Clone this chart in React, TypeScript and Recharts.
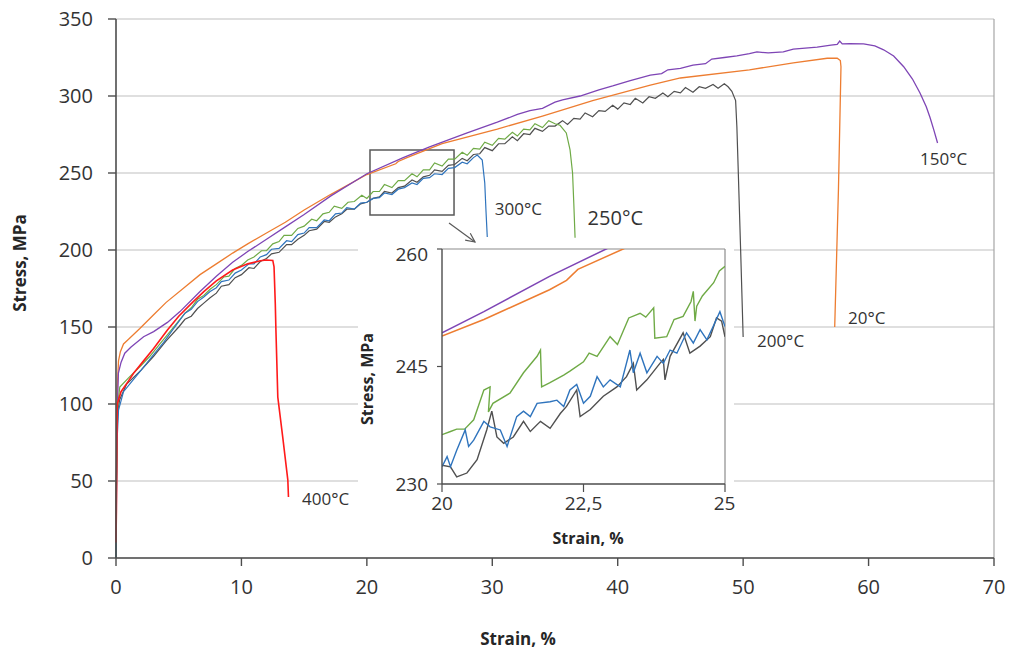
import React from 'react'
import { CartesianGrid, Line, LineChart, ReferenceArea, ReferenceDot, ReferenceLine, XAxis, YAxis } from 'recharts'

// [strain %, stress MPa]
const curve20: [number, number][] = [
  [0, 0], [0.05, 60], [0.1, 110], [0.2, 128], [0.35, 134], [0.6, 139], [1, 142], [1.9, 149], [3, 158], [4, 166],
  [5.5, 176], [6.7, 184], [8, 191], [9.3, 198], [10.5, 204], [12, 211], [13.5, 218], [15, 226], [17.1, 236],
  [20, 249], [22.3, 256], [22.5, 257.5], [23.2, 260], [26, 269], [30.4, 278.5], [34, 287], [38, 297], [42.6, 307],
  [45, 311.7], [50.5, 317], [54, 321.5], [56.7, 324.5], [57.5, 324.6], [57.75, 323], [57.8, 319], [57.6, 240], [57.3, 150],
]

const curve150: [number, number][] = [
  [0, 0], [0.05, 50], [0.12, 100], [0.19, 120], [0.4, 127], [0.7, 133], [1.2, 137], [2.2, 143.7], [3, 147], [4.1, 153],
  [5.1, 160], [6.7, 173], [8, 183], [9.3, 192], [10.5, 199], [12, 207], [13.5, 215], [15, 223], [17.1, 235],
  [20, 249.5], [22.9, 260], [25, 267], [28, 276], [30.4, 283], [32, 288], [33, 290.5], [34, 292], [35, 296],
  [35.6, 297.5], [37, 300], [38.5, 304], [39.6, 306.5], [41, 310], [42.6, 313.5], [43.5, 314.5], [44, 317], [45, 318],
  [46, 320], [47, 321], [47.5, 324], [48.5, 325], [49.5, 326], [50.5, 327.5], [51.1, 328.6], [52, 328], [53.2, 328.6],
  [54, 330.5], [55.9, 331.8], [57, 333], [57.5, 333.5], [57.7, 335.7], [57.9, 333.8], [58.5, 334], [59.6, 333.8],
  [60.5, 332.5], [61.2, 330], [62, 326], [62.8, 319], [63.5, 311], [64.1, 302], [64.6, 293], [64.9, 286], [65.2, 278], [65.5, 269.5],
]

const curve200: [number, number][] = [
  [0, 0], [0.03, 40], [0.08, 80], [0.15, 96], [0.3, 103], [0.85, 113], [2, 122], [3, 131], [4, 141], [5, 150],
  [5.5, 155], [6, 157], [6.5, 162], [7, 165.5], [7.5, 169], [8, 172], [8.4, 176.5], [9, 177.5], [9.5, 182], [10, 184],
  [10.6, 188.5], [11, 188], [11.5, 192.5], [12, 194.5], [12.4, 197.5], [13, 198.5], [13.6, 203.5], [14, 203.5], [14.5, 207],
  [15, 209.5], [15.4, 212.5], [16, 213.5], [16.6, 218.5], [17, 218], [17.5, 221.5], [18, 223.5], [18.4, 226.5], [19, 226.5],
  [19.5, 230], [20, 231], [20.5, 233.5], [21, 234.5], [21.4, 238], [22, 237], [22.5, 240.5], [23, 241.5], [23.6, 245.5],
  [24, 244], [24.5, 247.5], [25, 248.5], [25.4, 252], [26, 251], [26.5, 255], [27, 255.5], [27.6, 259.5], [28, 258],
  [28.5, 262], [29, 262.5], [29.4, 266.5], [30, 264.5], [30.5, 269], [31, 269], [31.6, 273.5], [32, 271], [32.5, 275.5],
  [33, 275], [33.4, 279], [34, 277], [34.5, 280.5], [35, 280.5], [35.6, 284], [36, 281.5], [36.5, 285.5], [37, 285],
  [37.4, 289], [38, 286.5], [38.5, 290.5], [39, 290], [39.6, 294], [40, 291.5], [40.5, 295.5], [41, 294.5], [41.4, 298.5],
  [42, 295.5], [42.5, 299.5], [43, 298.5], [43.6, 302], [44, 299.5], [44.5, 303], [45, 302], [45.4, 305.5], [46, 302.5],
  [46.5, 306], [47, 305], [47.6, 307.5], [48, 305], [48.5, 308], [48.8, 306], [49.1, 303], [49.4, 297],
  [49.5, 280], [49.6, 254], [49.8, 200], [50, 143.5],
]

const curve250: [number, number][] = [
  [0, 0], [0.03, 45], [0.08, 85], [0.15, 100], [0.3, 111], [1, 117], [2, 125], [2.7, 131], [3.5, 139], [4.5, 149],
  [5.5, 159], [6, 162.5], [6.5, 168], [7, 170.5], [7.5, 174.5], [8, 177.5], [8.6, 182.5], [9, 183], [9.5, 188], [10, 190],
  [10.5, 193.5], [11, 195.5], [11.6, 199.5], [12, 199.5], [12.5, 204], [13, 205.5], [13.4, 209.5], [14, 209.5], [14.5, 214],
  [15, 215.5], [15.6, 220], [16, 219], [16.5, 223.5], [17, 224.5], [17.4, 228.5], [18, 227], [18.5, 231], [19, 231.5],
  [19.6, 235.5], [20, 233.5], [20.5, 238], [21, 238], [21.4, 242.5], [22, 240.5], [22.5, 245], [23, 245], [23.6, 249.5],
  [24, 247.5], [24.5, 252], [25, 252], [25.4, 256.5], [26, 254.5], [26.5, 259], [27, 259], [27.6, 263.5], [28, 261.5],
  [28.5, 266], [29, 265.5], [29.4, 270], [30, 268], [30.5, 272.5], [31, 272], [31.6, 276.5], [32, 274], [32.5, 278.5],
  [33, 278], [33.4, 282], [34, 279.5], [34.5, 284], [35, 282], [35.4, 281], [35.9, 276], [36.2, 265], [36.4, 250],
  [36.5, 230], [36.6, 208],
]

const curve300: [number, number][] = [
  [0, 0], [0.02, 30], [0.05, 70], [0.2, 96], [0.6, 108], [1.4, 116], [2.2, 124], [3, 132], [3.8, 140], [4.5, 148],
  [5.5, 159], [6, 161.5], [6.5, 166.5], [7, 169.5], [7.5, 173], [8, 175.5], [8.4, 179.5], [9, 180.5], [9.5, 185], [10, 187],
  [10.6, 191], [11, 191], [11.5, 195.5], [12, 197], [12.4, 200.5], [13, 201], [13.6, 206], [14, 205.5], [14.5, 210],
  [15, 211], [15.4, 214.5], [16, 214.5], [16.6, 219.5], [17, 219], [17.5, 223.5], [18, 224], [18.4, 227.5], [19, 226.5],
  [19.5, 230.5], [20, 231], [20.5, 233.5], [21, 234], [21.4, 237], [22, 236], [22.5, 239.5], [23, 240.5], [23.6, 243.5],
  [24, 242.5], [24.5, 246.5], [25, 247], [25.4, 249.5], [26, 249], [26.5, 253], [27, 253.5], [27.6, 257], [28, 256],
  [28.5, 260], [28.8, 261.7], [29.2, 258.4], [29.4, 243.5], [29.5, 225], [29.6, 208.4],
]

const curve400: [number, number][] = [
  [0, 10], [0.03, 30], [0.06, 70], [0.1, 100], [0.4, 108], [1, 115], [1.4, 120], [2.2, 128], [3, 136], [4.1, 148],
  [5, 157], [6.1, 166], [7, 173], [8, 180], [9.3, 187], [10.5, 191], [11.5, 193], [12, 193.5], [12.5, 193.2],
  [12.6, 189], [12.7, 165], [12.75, 148], [12.9, 104.5], [13.3, 78], [13.7, 50.6], [13.75, 39.6],
]

// inset, strain 20–25 %
const inset20: [number, number][] = [[20, 248.9], [20.74, 251], [21.9, 254.8], [22.2, 256], [22.4, 257.4], [23.2, 260], [23.8, 262]]
const inset150: [number, number][] = [[20, 249.3], [20.74, 252], [21.9, 256.5], [22.9, 260], [23.5, 262]]
const inset250: [number, number][] = [
  [20, 236.3], [20.15, 236.7], [20.26, 237], [20.4, 237], [20.56, 238.2], [20.74, 242], [20.85, 242.4], [20.82, 239.2],
  [20.9, 240.3], [21.2, 241.6], [21.44, 244.2], [21.68, 246.3], [21.74, 247.1], [21.76, 242.4], [21.9, 242.9],
  [22.15, 243.9], [22.26, 244.4], [22.5, 245.6], [22.6, 246.7], [22.74, 246.3], [22.97, 248.8], [23.1, 247.8],
  [23.3, 251.2], [23.5, 251.8], [23.6, 251.3], [23.74, 252.5], [23.76, 248.6], [23.97, 248.8], [24.1, 251],
  [24.26, 251.4], [24.4, 253.3], [24.44, 254.6], [24.47, 250.8], [24.5, 252.7], [24.6, 254], [24.8, 255.7],
  [24.9, 257.2], [25, 257.8],
]
const inset300: [number, number][] = [
  [20, 232.2], [20.09, 233.5], [20.15, 232.2], [20.26, 234.3], [20.41, 236.9], [20.47, 234.8], [20.56, 235.6],
  [20.74, 238], [20.85, 237.3], [21.03, 236.9], [21.15, 234.8], [21.32, 238.6], [21.44, 239.3], [21.56, 238.6],
  [21.68, 240.3], [21.91, 240.5], [22.03, 240.7], [22.15, 239.9], [22.26, 242], [22.38, 242.7], [22.5, 240.3],
  [22.62, 241.2], [22.74, 243.7], [22.85, 242.4], [22.97, 243.3], [23.15, 242.4], [23.32, 247.1], [23.38, 244.2],
  [23.5, 246.7], [23.62, 244.2], [23.8, 246.3], [23.91, 245.4], [24.03, 247.1], [24.15, 246.7], [24.32, 249.3],
  [24.44, 248], [24.56, 249.7], [24.68, 248.4], [24.79, 250.1], [24.91, 252], [25, 250.1],
]
const inset200: [number, number][] = [
  [20, 232.4], [20.15, 232.2], [20.26, 230.9], [20.44, 231.4], [20.62, 233.1], [20.79, 236.9], [20.88, 239.3],
  [20.97, 236], [21.09, 235.2], [21.26, 236], [21.44, 238], [21.56, 236.7], [21.74, 238], [21.91, 237.1], [22.09, 239],
  [22.2, 239.9], [22.38, 242], [22.44, 238.6], [22.62, 239.5], [22.85, 241.2], [23.09, 242.4], [23.26, 243.7],
  [23.38, 245.4], [23.44, 242], [23.62, 243.3], [23.85, 245.4], [23.91, 245.9], [23.94, 243.3], [24.03, 246.3],
  [24.26, 249.3], [24.38, 246.7], [24.56, 247.6], [24.74, 248.8], [24.85, 251.2], [24.94, 250.8], [25, 248.8],
]

const xTicks = [0, 10, 20, 30, 40, 50, 60, 70]
const yTicks = [0, 50, 100, 150, 200, 250, 300, 350]
const insetXTicks = [20, 22.5, 25]
const insetYTicks = [230, 245, 260]

// temperature tags: [text, strain, stress]
const tags: [string, number, number][] = [
  ['150°C', 64.1, 255.2],
  ['20°C', 58.36, 151.9],
  ['200°C', 51.1, 137],
  ['300°C', 30.2, 222.7],
  ['250°C', 37.6, 216.2],
  ['400°C', 14.83, 34.4],
]

const FONT = '"Open Sans", sans-serif'
const COLORS = { c20: '#ED7D31', c150: '#7E45B5', c200: '#505050', c250: '#6FAA46', c300: '#2F74BD', c400: '#FF1A1A' }

const pts = (arr: [number, number][]) => arr.map(([strain, stress]) => ({ strain, stress }))

const Title = ({ tx, ty, rot = 0, text, size }: any) => (
  <text
    x={tx}
    y={ty}
    transform={rot ? `rotate(${rot} ${tx} ${ty})` : undefined}
    textAnchor="middle"
    dominantBaseline="central"
    fontFamily={FONT}
    fontSize={size}
    fontWeight={700}
    fill="#262626"
  >
    {text}
  </text>
)

const TagLabel = ({ viewBox, text, size }: any) => (
  <text x={viewBox.x + 1} y={viewBox.y + 1} fontFamily={FONT} fontSize={size} fill="#333333">
    {text}
  </text>
)

const Arrow = (p: any) => {
  const { x1, y1, x2, y2 } = p
  const a = Math.atan2(y2 - y1, x2 - x1)
  const L = 10
  const w = 0.45
  const ax = x2 - L * Math.cos(a - w)
  const ay = y2 - L * Math.sin(a - w)
  const bx = x2 - L * Math.cos(a + w)
  const by = y2 - L * Math.sin(a + w)
  return (
    <g>
      <line x1={x1} y1={y1} x2={x2} y2={y2} stroke="#595959" strokeWidth={1.2} />
      <polyline points={`${ax},${ay} ${x2},${y2} ${bx},${by}`} fill="none" stroke="#595959" strokeWidth={1.2} />
    </g>
  )
}

const tickStyle = { fontFamily: FONT, fontSize: 20, fill: '#333333' }
const insetTickStyle = { fontFamily: FONT, fontSize: 19, fill: '#333333' }

export default function App() {
  return (
    <div style={{ position: 'absolute', left: 0, top: 0, width: 1009, height: 649, background: '#fff' }}>
      <style>{'.inset svg { overflow: visible; }'}</style>
      <LineChart width={1009} height={649} margin={{ top: 19, right: 15, bottom: 0, left: 0 }}>
        <CartesianGrid vertical={false} stroke="#c0c0c0" strokeWidth={1.2} />
        <XAxis
          type="number"
          dataKey="strain"
          domain={[0, 70]}
          ticks={xTicks}
          height={91}
          tickSize={8}
          tickMargin={14}
          tick={tickStyle}
          axisLine={{ stroke: '#4d4d4d', strokeWidth: 1.6 }}
          tickLine={{ stroke: '#4d4d4d', strokeWidth: 1.4 }}
          label={<Title tx={518} ty={638} text="Strain, %" size={17} />}
        />
        <YAxis
          type="number"
          dataKey="stress"
          domain={[0, 350]}
          ticks={yTicks}
          width={116}
          tickSize={8}
          tickMargin={15}
          tick={tickStyle}
          axisLine={{ stroke: '#4d4d4d', strokeWidth: 1.6 }}
          tickLine={{ stroke: '#4d4d4d', strokeWidth: 1.4 }}
          label={<Title tx={19} ty={263} rot={-90} text="Stress, MPa" size={17} />}
        />
        <ReferenceLine x={70} stroke="#a6a6a6" strokeWidth={1.2} />
        <Line data={pts(curve20)} dataKey="stress" stroke={COLORS.c20} strokeWidth={1.3} dot={false} activeDot={false} isAnimationActive={false} />
        <Line data={pts(curve150)} dataKey="stress" stroke={COLORS.c150} strokeWidth={1.3} dot={false} activeDot={false} isAnimationActive={false} />
        <Line data={pts(curve200)} dataKey="stress" stroke={COLORS.c200} strokeWidth={1.2} dot={false} activeDot={false} isAnimationActive={false} />
        <Line data={pts(curve250)} dataKey="stress" stroke={COLORS.c250} strokeWidth={1.2} dot={false} activeDot={false} isAnimationActive={false} />
        <Line data={pts(curve300)} dataKey="stress" stroke={COLORS.c300} strokeWidth={1.2} dot={false} activeDot={false} isAnimationActive={false} />
        <Line data={pts(curve400)} dataKey="stress" stroke={COLORS.c400} strokeWidth={1.6} dot={false} activeDot={false} isAnimationActive={false} />
        <ReferenceArea x1={20.25} x2={26.95} y1={222.7} y2={265} fill="none" stroke="#595959" strokeWidth={1.5} />
        <ReferenceLine segment={[{ x: 26.55, y: 217.5 }, { x: 28.62, y: 205.2 }]} shape={Arrow} />
        {tags.map(([text, x, y]) => (
          <ReferenceDot
            key={text}
            x={x}
            y={y}
            r={1}
            fill="none"
            stroke="none"
            label={<TagLabel text={text} size={text === '250°C' ? 20 : 17} />}
          />
        ))}
      </LineChart>

      <div className="inset" style={{ position: 'absolute', left: 358, top: 243, width: 376, height: 312, background: '#fff' }}>
        <LineChart width={376} height={312} margin={{ top: 6, right: 9, bottom: 0, left: 0 }}>
          <XAxis
            type="number"
            dataKey="strain"
            domain={[20, 25]}
            ticks={insetXTicks}
            allowDataOverflow
            height={71}
            tickSize={8}
            tickMargin={5}
            tick={insetTickStyle}
            tickFormatter={(v: number) => String(v).replace('.', ',')}
            axisLine={{ stroke: '#4d4d4d', strokeWidth: 1.4 }}
            tickLine={{ stroke: '#4d4d4d', strokeWidth: 1.2 }}
            label={<Title tx={230} ty={295} text="Strain, %" size={16} />}
          />
          <YAxis
            type="number"
            dataKey="stress"
            domain={[230, 260]}
            ticks={insetYTicks}
            allowDataOverflow
            width={84}
            tickSize={5}
            tickMargin={9}
            tick={insetTickStyle}
            axisLine={{ stroke: '#4d4d4d', strokeWidth: 1.4 }}
            tickLine={{ stroke: '#4d4d4d', strokeWidth: 1.2 }}
            label={<Title tx={9} ty={136} rot={-90} text="Stress, MPa" size={16} />}
          />
          <ReferenceLine y={260} stroke="#8c8c8c" strokeWidth={1.2} />
          <ReferenceLine x={25} stroke="#8c8c8c" strokeWidth={1.2} />
          <Line data={pts(inset20)} dataKey="stress" stroke={COLORS.c20} strokeWidth={1.5} dot={false} activeDot={false} isAnimationActive={false} />
          <Line data={pts(inset150)} dataKey="stress" stroke={COLORS.c150} strokeWidth={1.5} dot={false} activeDot={false} isAnimationActive={false} />
          <Line data={pts(inset250)} dataKey="stress" stroke={COLORS.c250} strokeWidth={1.4} dot={false} activeDot={false} isAnimationActive={false} />
          <Line data={pts(inset200)} dataKey="stress" stroke={COLORS.c200} strokeWidth={1.4} dot={false} activeDot={false} isAnimationActive={false} />
          <Line data={pts(inset300)} dataKey="stress" stroke={COLORS.c300} strokeWidth={1.4} dot={false} activeDot={false} isAnimationActive={false} />
        </LineChart>
      </div>
    </div>
  )
}
